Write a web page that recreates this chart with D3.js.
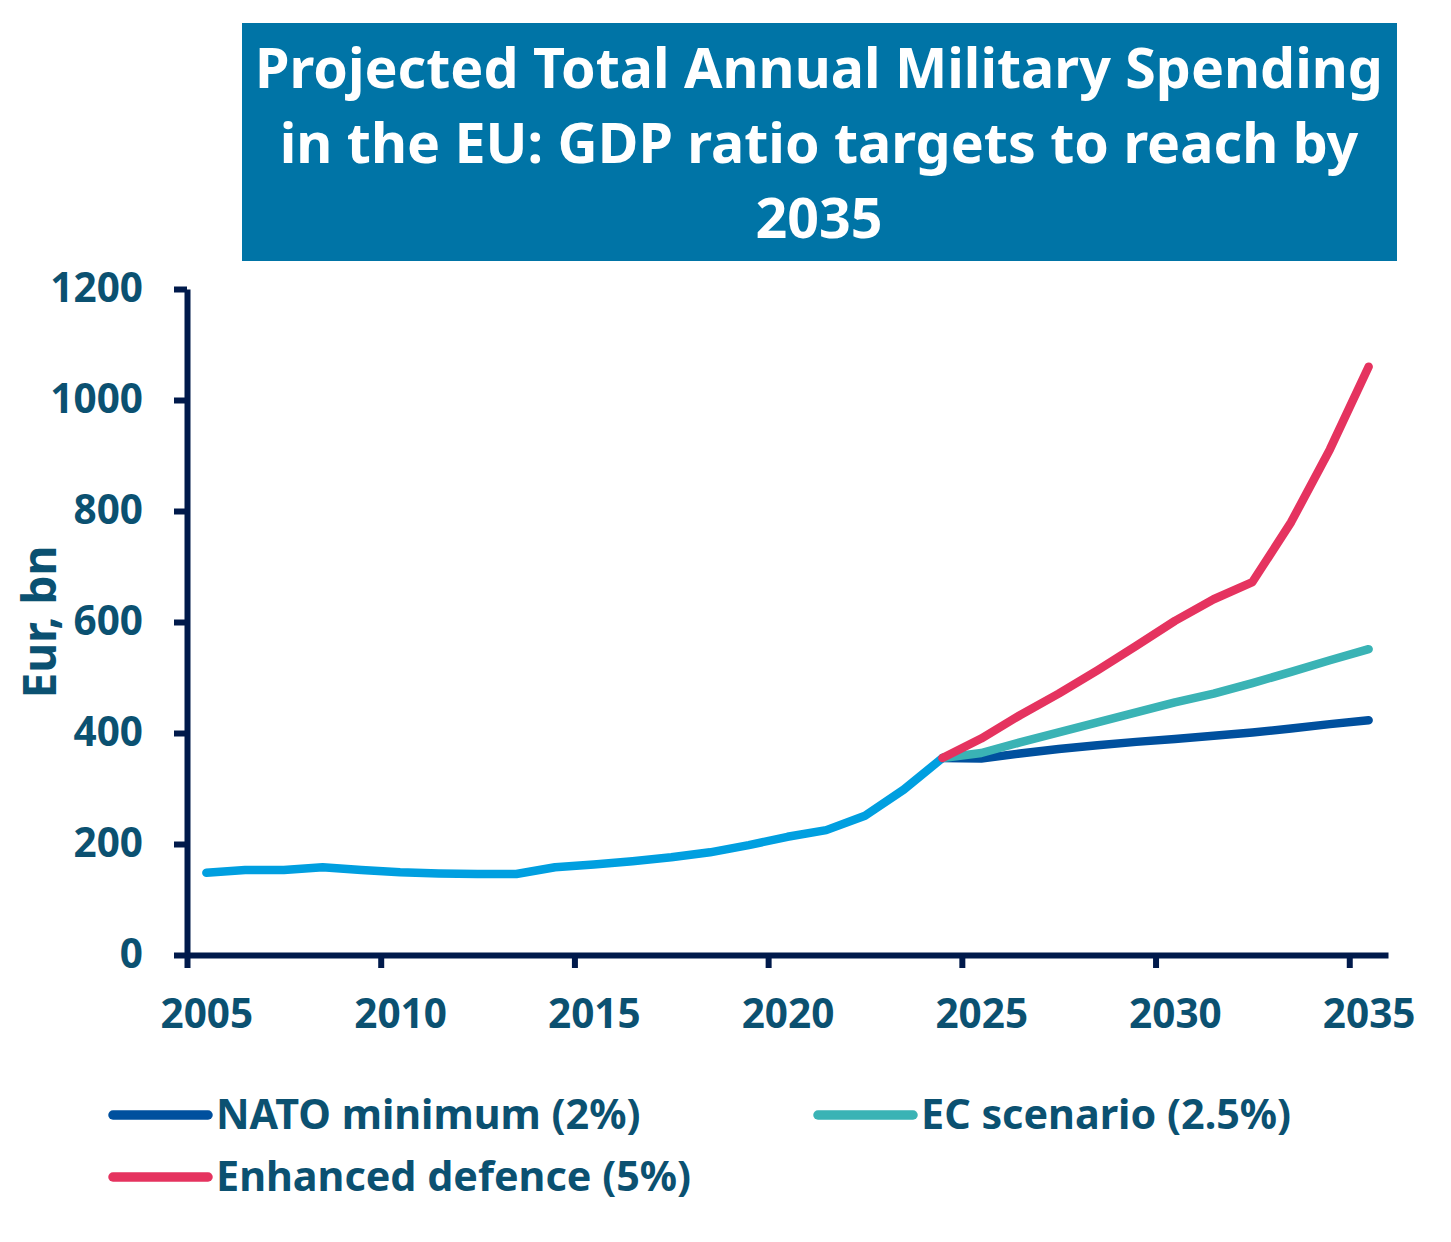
<!DOCTYPE html>
<html>
<head>
<meta charset="utf-8">
<script src="https://cdn.jsdelivr.net/npm/d3@7"></script>
<style>
  body { margin: 0; background: #fff; }
  svg text { font-family: "Noto Sans", "Open Sans", sans-serif; font-weight: bold; }
</style>
</head>
<body>
<div id="chart"></div>
<script>
// data
var histYears = [2005, 2006, 2007, 2008, 2009, 2010, 2011, 2012, 2013, 2014,
                 2015, 2016, 2017, 2018, 2019, 2020, 2021, 2022, 2023, 2024];
var historical = [148, 153, 153, 158, 153, 149, 147, 146, 146, 158,
                  163, 169, 176, 185, 198, 213, 225, 251, 298, 355];

var projYears = [2024, 2025, 2026, 2027, 2028, 2029, 2030, 2031, 2032, 2033, 2034, 2035];
var nato     = [355, 354, 363, 371, 378, 384, 389, 395, 401, 408, 416, 423];
var ecScen   = [355, 364, 383, 401, 419, 437, 455, 471, 490, 510, 531, 551];
var enhanced = [355, 390, 432, 471, 513, 557, 602, 641, 672, 780, 911, 1060];

var yTicks = [0, 200, 400, 600, 800, 1000, 1200];
var xTicks = [2005, 2010, 2015, 2020, 2025, 2030, 2035];

var titleLines = ["Projected Total Annual Military Spending",
                  "in the EU: GDP ratio targets to reach by",
                  "2035"];
var seriesNames = ["NATO minimum (2%)", "EC scenario (2.5%)", "Enhanced defence (5%)"];

// sizes
var svgWidth = 1451;
var svgHeight = 1242;
var margin = { top: 289, right: 63, bottom: 287, left: 187 };
var width = svgWidth - margin.left - margin.right;
var height = svgHeight - margin.top - margin.bottom;

var textColor = "#0b5171";
var axisColor = "#001a4b";

var svg = d3.select("#chart")
    .append("svg")
    .attr("width", svgWidth)
    .attr("height", svgHeight);

// title box
svg.append("rect")
    .attr("x", 242)
    .attr("y", 23)
    .attr("width", 1155)
    .attr("height", 238)
    .attr("fill", "#0074a6");

svg.selectAll(".title")
    .data(titleLines)
    .enter()
    .append("text")
    .attr("class", "title")
    .attr("x", 819)
    .attr("y", (d, i) => 88 + i * 75)
    .attr("text-anchor", "middle")
    .attr("fill", "#fff")
    .attr("font-size", "55.5px")
    .text(d => d);

var chartGroup = svg.append("g")
    .attr("transform", `translate(${margin.left}, ${margin.top})`);

// scales
var x = d3.scaleLinear().domain([2005, 2036]).range([0, width]);
var y = d3.scaleLinear().domain([0, 1200]).range([height, 0]);

// axes
var leftAxis = d3.axisLeft(y).tickValues(yTicks).tickSize(13).tickSizeOuter(0).tickPadding(31)
    .tickFormat(d3.format("d"));
var bottomAxis = d3.axisBottom(x).tickValues(xTicks).tickSize(13).tickSizeOuter(0).tickFormat("");
var labelAxis = d3.axisBottom(x).tickValues(xTicks.map(d => d + 0.5)).tickSize(0).tickPadding(44)
    .tickFormat(d => Math.floor(d));

var yAxis = chartGroup.append("g").call(leftAxis);
var xAxis = chartGroup.append("g").attr("transform", `translate(0, ${height})`).call(bottomAxis);
var xLabels = chartGroup.append("g").attr("transform", `translate(0, ${height})`).call(labelAxis);
xLabels.select(".domain").remove();

[yAxis, xAxis].forEach(function(g) {
    g.select(".domain").attr("stroke", axisColor).attr("stroke-width", 6);
    g.selectAll(".tick line").attr("stroke", axisColor).attr("stroke-width", 6);
});
[yAxis, xLabels].forEach(function(g) {
    g.selectAll("text").attr("fill", textColor).attr("font-size", "40.5px")
        .style("font-family", "'Noto Sans', sans-serif").style("font-weight", "bold");
});

// axis title
chartGroup.append("text")
    .attr("transform", "rotate(-90)")
    .attr("x", -(y(600)))
    .attr("y", -187 + 56)
    .attr("text-anchor", "middle")
    .attr("fill", textColor)
    .attr("font-size", "46px")
    .text("Eur, bn");

// lines
var line = d3.line()
    .x(d => x(d.year + 0.5))
    .y(d => y(d.value));

function pairs(years, values) {
    return years.map((yr, i) => ({ year: yr, value: values[i] }));
}

var series = [
    { data: pairs(histYears, historical), color: "#009fe0" },
    { data: pairs(projYears, nato), color: "#00509e" },
    { data: pairs(projYears, ecScen), color: "#3ab3b5" },
    { data: pairs(projYears, enhanced), color: "#e5335f" }
];

chartGroup.selectAll(".series")
    .data(series)
    .enter()
    .append("path")
    .attr("class", "series")
    .attr("d", d => line(d.data))
    .attr("fill", "none")
    .attr("stroke", d => d.color)
    .attr("stroke-width", 8.5)
    .attr("stroke-linejoin", "round")
    .attr("stroke-linecap", "round");

// legend
var legendItems = [
    { name: seriesNames[0], color: "#00509e", x: 113, y: 1115 },
    { name: seriesNames[1], color: "#3ab3b5", x: 818, y: 1115 },
    { name: seriesNames[2], color: "#e5335f", x: 113, y: 1177 }
];

var legend = svg.selectAll(".legend")
    .data(legendItems)
    .enter()
    .append("g")
    .attr("class", "legend")
    .attr("transform", d => `translate(${d.x}, ${d.y})`);

legend.append("line")
    .attr("x1", 0)
    .attr("x2", 95)
    .attr("stroke", d => d.color)
    .attr("stroke-width", 9.5)
    .attr("stroke-linecap", "round");

legend.append("text")
    .attr("x", 103)
    .attr("y", 14)
    .attr("fill", textColor)
    .attr("font-size", "41.3px")
    .text(d => d.name);
</script>
</body>
</html>
